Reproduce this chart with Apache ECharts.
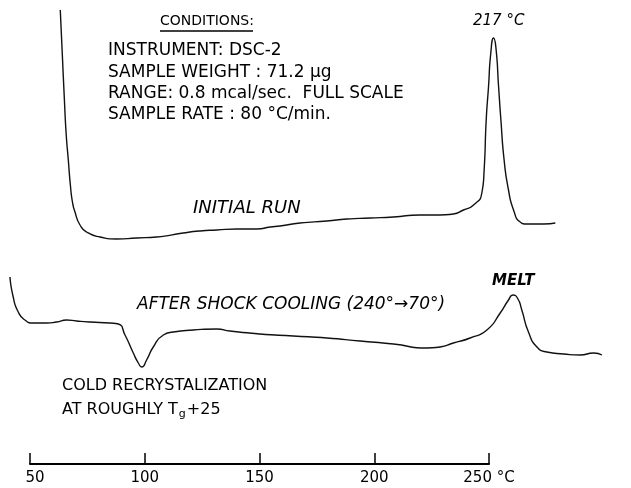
<!DOCTYPE html>
<html>
<head>
<meta charset="utf-8">
<script src="https://cdn.jsdelivr.net/npm/echarts@6/dist/echarts.min.js"></script>
<style>html,body{margin:0;padding:0;background:#fff}#c{width:631px;height:488px}</style>
</head>
<body>
<div id="c"></div>
<script>
// Temperature scale ticks (°C)
const axisTicks = [50, 100, 150, 200, 250];

// Initial run trace: temperature (ruler units) and relative heat-flow signal
const initialTemp = [63.2, 64.1, 65.0, 65.8, 66.7, 67.6, 68.5, 69.6, 71.8, 74.7, 80.5, 87.8, 96.5, 105.2, 116.7, 124.1, 131.4, 140.1, 148.8, 154.6, 158.9, 167.6, 179.3, 188.0, 198.1, 208.3, 219.9, 228.6, 234.4, 238.8, 243.2, 246.8, 247.8, 248.7, 249.7, 250.7, 251.9, 252.9, 254.1, 255.1, 256.5, 258.4, 260.6, 263.5, 266.4, 273.7, 278.8];
const initialSignal = [478, 433, 388, 353, 328, 303, 286, 276, 263, 256, 251, 249, 250, 251, 255, 257, 258, 259, 259, 261, 262, 265, 267, 269, 270, 271, 273, 273, 274, 278, 283, 295, 318, 368, 401, 435, 450, 441, 401, 368, 328, 298, 278, 266, 264, 264, 265];

// After shock cooling trace
const shockTemp = [41.3, 42.7, 44.9, 47.8, 51.4, 57.3, 61.6, 66.0, 70.3, 76.1, 84.9, 88.5, 91.4, 95.0, 97.2, 98.7, 100.8, 103.7, 108.1, 112.4, 121.2, 131.4, 137.1, 150.2, 164.7, 179.3, 193.8, 208.3, 222.9, 228.6, 234.4, 241.7, 249.0, 254.8, 258.4, 260.3, 262.3, 264.2, 267.1, 270.8, 275.1, 282.4, 289.6, 295.5, 299.1];
const shockSignal = [211, 191, 176, 168, 165, 165, 166, 168, 167, 166, 165, 164, 153, 135, 125, 121, 128, 141, 153, 156, 158, 159, 157, 154, 152, 150, 147, 144, 140, 141, 145, 150, 158, 175, 188, 193, 190, 178, 156, 141, 136, 134, 133, 135, 133];

const FONT = '"DejaVu Sans", sans-serif';
const chart = echarts.init(document.getElementById('c'), null, {renderer: 'canvas'});

function pairs(xs, ys) { return xs.map((x, i) => [x, ys[i]]); }

function txt(text, x, y, size, italic, extra) {
  return {
    type: 'text', x: x, y: y, silent: true,
    style: Object.assign({
      text: text, fill: '#000',
      font: (italic ? 'italic ' : '') + size + 'px ' + FONT,
      verticalAlign: 'middle', align: 'left'
    }, extra || {})
  };
}

chart.setOption({
  animation: false,
  backgroundColor: '#fff',
  grid: [
    {left: 30, right: 142, top: 400, bottom: 24},
    {left: 7, right: 27, top: 0, bottom: 0}
  ],
  xAxis: [
    {
      gridIndex: 0, type: 'value', min: axisTicks[0], max: axisTicks[axisTicks.length - 1], interval: 50,
      axisLine: {show: true, onZero: false, lineStyle: {color: '#000', width: 2}},
      axisTick: {show: true, inside: true, length: 11, lineStyle: {color: '#000', width: 1.5}},
      axisLabel: {color: '#000', fontSize: 15, fontFamily: FONT, margin: 7,
        formatter: v => v === 250 ? '250 °C' : (v === 50 ? '{a|50}' : String(v)),
        rich: {a: {fontSize: 15, fontFamily: FONT, color: '#000', padding: [0, 0, 0, 10]}}},
      splitLine: {show: false}
    },
    {gridIndex: 1, type: 'value', min: 40, max: 300, show: false}
  ],
  yAxis: [
    {gridIndex: 0, type: 'value', min: 0, max: 1, show: false},
    {gridIndex: 1, type: 'value', min: 0, max: 488, show: false}
  ],
  series: [
    {
      name: 'Initial run', type: 'line', xAxisIndex: 1, yAxisIndex: 1,
      data: pairs(initialTemp, initialSignal), showSymbol: false, symbol: 'none',
      smooth: 0.6,
      lineStyle: {color: '#111', width: 1.4}
    },
    {
      name: 'After shock cooling', type: 'line', xAxisIndex: 1, yAxisIndex: 1,
      data: pairs(shockTemp, shockSignal), showSymbol: false, symbol: 'none',
      smooth: 0.6,
      lineStyle: {color: '#111', width: 1.4}
    }
  ],
  graphic: [
    txt('CONDITIONS:', 160, 21, 14, false),
    {type: 'line', silent: true, shape: {x1: 160, y1: 31, x2: 253, y2: 31}, style: {stroke: '#000', lineWidth: 1.5}},
    txt('INSTRUMENT: DSC-2', 108, 51, 17, false),
    txt('SAMPLE WEIGHT : 71.2 µg', 108, 73, 17, false),
    txt('RANGE: 0.8 mcal/sec.  FULL SCALE', 108, 94, 17, false),
    txt('SAMPLE RATE : 80 °C/min.', 108, 115, 17, false),
    txt('217 °C', 473, 21, 15, true),
    txt('INITIAL RUN', 193, 208, 18, true),
    txt('AFTER SHOCK COOLING (240°→70°)', 137, 305, 17, true),
    txt('MELT', 492, 281, 16, true, {font: 'italic bold 15px ' + FONT}),
    txt('COLD RECRYSTALIZATION', 62, 386, 16, false),
    {
      type: 'text', x: 62, y: 410, silent: true,
      style: {
        text: 'AT ROUGHLY T{sub|g}+25', fill: '#000', font: '16px ' + FONT,
        verticalAlign: 'middle', align: 'left',
        rich: {sub: {fontSize: 11, fontFamily: FONT, fill: '#000', padding: [8, 1, 0, 1]}}
      }
    }
  ]
});
</script>
</body>
</html>
